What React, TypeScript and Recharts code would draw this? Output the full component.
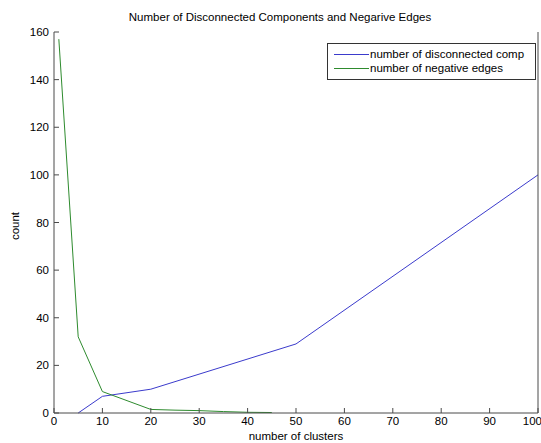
import { LineChart, Line, XAxis, YAxis } from 'recharts'

// number of clusters vs counts
const disconnectedX = [5, 10, 20, 50, 100]
const disconnectedY = [0, 7, 10, 29, 100]
const negativeX = [1, 5, 10, 20, 25, 30, 35, 40, 45]
const negativeY = [157, 32, 9, 1.5, 1.2, 1, 0.6, 0.3, 0.2]

const X_TICKS = [0, 10, 20, 30, 40, 50, 60, 70, 80, 90, 100]
const Y_TICKS = [0, 20, 40, 60, 80, 100, 120, 140, 160]

const BLUE = '#3b3bcc'
const GREEN = '#2e8b2e'
const AXIS = '#4a4a4a'
const FONT = '"Liberation Sans", Arial, sans-serif'

const disconnected = disconnectedX.map((x, i) => ({ x, y: disconnectedY[i] }))
const negative = negativeX.map((x, i) => ({ x, y: negativeY[i] }))

const LEGEND_ITEMS = [
  { label: 'number of disconnected comp', color: BLUE },
  { label: 'number of negative edges', color: GREEN },
]

// ticks on the top/right box edges: lines only, no labels
const NoLabel = () => <g />

function LegendBox() {
  return (
    <div
      style={{
        position: 'absolute',
        top: 43,
        left: 327,
        border: '1px solid #333',
        background: '#fff',
        width: 207,
        padding: '3px 0 4px 0',
        fontFamily: FONT,
        fontSize: 11.5,
        color: '#000',
      }}
    >
      {LEGEND_ITEMS.map((it) => (
        <div key={it.label} style={{ display: 'flex', alignItems: 'center', height: 14 }}>
          <div style={{ width: 35, height: 0, borderTop: `1px solid ${it.color}`, marginLeft: 6, marginRight: 1 }} />
          <span>{it.label}</span>
        </div>
      ))}
    </div>
  )
}

export default function App() {
  const tickStyle = { fill: '#000', fontSize: 11.5, fontFamily: FONT }
  return (
    <div style={{ position: 'absolute', top: 0, left: 0, width: 541, height: 443, background: '#fff', overflow: 'hidden' }}>
      <LineChart width={541} height={443} margin={{ top: 32, right: 0, bottom: 0, left: 0 }}>
        <XAxis
          xAxisId="bottom"
          type="number"
          dataKey="x"
          domain={[0, 100]}
          ticks={X_TICKS}
          height={30}
          tickSize={-5}
          tickMargin={9}
          stroke={AXIS}
          tick={tickStyle}
        />
        <XAxis
          xAxisId="top"
          orientation="top"
          type="number"
          dataKey="x"
          domain={[0, 100]}
          ticks={X_TICKS}
          height={0}
          tickSize={-5}
          tick={NoLabel}
          stroke={AXIS}
        />
        <YAxis
          yAxisId="left"
          type="number"
          domain={[0, 160]}
          ticks={Y_TICKS}
          width={54}
          tickSize={-5}
          tickMargin={10}
          stroke={AXIS}
          tick={tickStyle}
        />
        <YAxis
          yAxisId="right"
          orientation="right"
          type="number"
          domain={[0, 160]}
          ticks={Y_TICKS}
          width={3}
          tickSize={-5}
          tick={NoLabel}
          stroke={AXIS}
        />
        <Line
          xAxisId="bottom"
          yAxisId="left"
          data={disconnected}
          dataKey="y"
          stroke={BLUE}
          strokeWidth={1}
          dot={false}
          isAnimationActive={false}
        />
        <Line
          xAxisId="bottom"
          yAxisId="left"
          data={negative}
          dataKey="y"
          stroke={GREEN}
          strokeWidth={1}
          dot={false}
          isAnimationActive={false}
        />
      </LineChart>
      <LegendBox />
      <div style={{ position: 'absolute', top: 11, left: 0, width: 560, textAlign: 'center', fontFamily: FONT, fontSize: 11.5, color: '#000' }}>
        Number of Disconnected Components and Negarive Edges
      </div>
      <div style={{ position: 'absolute', top: 430, left: 0, width: 592, textAlign: 'center', fontFamily: FONT, fontSize: 11.5, color: '#000' }}>
        number of clusters
      </div>
      <div
        style={{
          position: 'absolute',
          left: 15,
          top: 226,
          transform: 'translate(-50%, -50%) rotate(-90deg)',
          fontFamily: FONT,
          fontSize: 11.5,
          color: '#000',
          whiteSpace: 'nowrap',
        }}
      >
        count
      </div>
    </div>
  )
}
